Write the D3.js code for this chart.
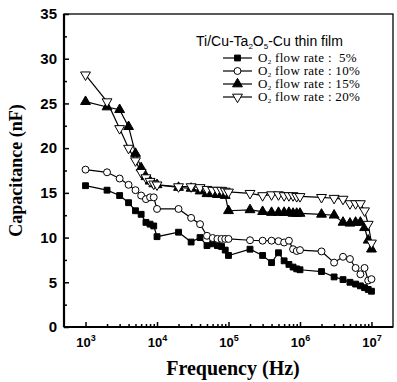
<!DOCTYPE html>
<html>
<head>
<meta charset="utf-8">
<script src="https://cdn.jsdelivr.net/npm/d3@7"></script>
<style>
  body { margin: 0; background: #fff; }
  .line { fill: none; stroke: #000; stroke-width: 1.2px; }
  .tick line { stroke: #000; stroke-width: 1.5px; }
  .domain { display: none; }
</style>
</head>
<body>
<script>
// de gegevens
var freq = [1e3, 2e3, 3e3, 4e3, 5e3, 6e3, 7e3, 8e3, 9e3,
            1e4, 2e4, 3e4, 4e4, 5e4, 6e4, 7e4, 8e4, 9e4,
            1e5, 2e5, 3e5, 4e5, 5e5, 6e5, 7e5, 8e5, 9e5,
            1e6, 2e6, 3e6, 4e6, 5e6, 6e6, 7e6, 8e6, 9e6,
            1e7];
var cap5  = [15.8, 15.3, 14.7, 13.9, 13.0, 12.6, 11.7, 11.5, 11.3,
             10.1, 10.6, 9.5, 10.0, 9.1, 9.3, 9.1, 9.0, 8.6,
             8.0, 8.7, 8.0, 7.2, 8.3, 7.4, 7.0, 6.7, 6.5,
             6.4, 6.2, 5.6, 5.3, 5.0, 4.8, 4.6, 4.4, 4.2,
             4.0];
var cap10 = [17.6, 17.3, 16.6, 15.9, 15.3, 14.7, 14.3, 14.5, 14.5,
             13.2, 13.2, 12.2, 11.5, 10.2, 9.95, 9.85, 9.85, 9.85,
             9.85, 9.7, 9.65, 9.65, 9.6, 9.45, 9.65, 8.7, 8.5,
             8.6, 8.45, 7.2, 7.85, 7.6, 6.6, 5.9, 6.6, 5.2,
             5.35];
var cap15 = [25.2, 24.6, 24.3, 22.4, 19.4, 17.8, 16.8, 16.3, 16.0,
             15.9, 15.6, 15.5, 15.2, 14.9, 14.9, 14.8, 14.8, 14.7,
             13.0, 13.1, 12.9, 12.8, 12.8, 12.8, 12.8, 12.7, 12.7,
             12.7, 12.6, 12.5, 11.7, 11.6, 11.7, 11.7, 11.1, 9.7,
             8.7];
var cap20 = [28.2, 25.2, 22.2, 20.0, 18.6, 17.3, 16.7, 16.3, 16.0,
             15.9, 15.7, 15.7, 15.6, 15.4, 15.3, 15.3, 15.3, 15.2,
             15.1, 14.95, 14.7, 14.8, 14.8, 14.7, 14.7, 14.7, 14.6,
             14.6, 14.5, 14.4, 14.3, 13.8, 13.8, 13.8, 13.0, 11.5,
             9.4];

var reeksNamen = ["O2 flow rate :  5%", "O2 flow rate : 10%", "O2 flow rate : 15%", "O2 flow rate : 20%"];
var yTicks = [0, 5, 10, 15, 20, 25, 30, 35];
var yMinor = [2.5, 7.5, 12.5, 17.5, 22.5, 27.5, 32.5];
var xTicks = [1e3, 1e4, 1e5, 1e6, 1e7];
var xExpo = ["3", "4", "5", "6", "7"];
var xMinor = [2e3, 3e3, 4e3, 5e3, 6e3, 7e3, 8e3, 9e3,
              2e4, 3e4, 4e4, 5e4, 6e4, 7e4, 8e4, 9e4,
              2e5, 3e5, 4e5, 5e5, 6e5, 7e5, 8e5, 9e5,
              2e6, 3e6, 4e6, 5e6, 6e6, 7e6, 8e6, 9e6];

// afmetingen
var margin = {top: 14, right: 4, bottom: 55, left: 64},
    width = 397 - margin.left - margin.right,
    height = 382 - margin.top - margin.bottom;

var x = d3.scaleLog().domain([500, 2e7]).range([0, width]);
var y = d3.scaleLinear().domain([0, 35]).range([height, 0]);

var svg = d3.select("body").append("svg")
    .attr("width", 397)
    .attr("height", 382)
  .append("g")
    .attr("transform", "translate(" + margin.left + "," + margin.top + ")");

// kader
svg.append("rect")
    .attr("width", width)
    .attr("height", height)
    .attr("fill", "none")
    .attr("stroke", "#000")
    .attr("stroke-width", 1.3);
svg.append("line").attr("x1", 0).attr("x2", 0).attr("y1", 0).attr("y2", height)
    .attr("stroke", "#000").attr("stroke-width", 2.2);
svg.append("line").attr("x1", 0).attr("x2", width).attr("y1", height).attr("y2", height)
    .attr("stroke", "#000").attr("stroke-width", 2.2);

// y as
var yAs = svg.append("g")
    .call(d3.axisLeft(y).tickValues(yTicks).tickSize(-5).tickPadding(7));
yAs.selectAll("text")
    .attr("font-family", "Liberation Sans, Arial, sans-serif")
    .attr("font-size", "15px")
    .attr("font-weight", "bold")
    .attr("fill", "#000");
svg.append("g")
    .call(d3.axisLeft(y).tickValues(yMinor).tickSize(-3).tickFormat(""));

// x as
var xAs = svg.append("g")
    .attr("transform", "translate(0," + height + ")")
    .call(d3.axisBottom(x).tickValues(xTicks).tickSize(-5).tickFormat(""));
xAs.selectAll(".tick").append("text")
    .attr("y", 20)
    .attr("text-anchor", "middle")
    .attr("font-family", "Liberation Sans, Arial, sans-serif")
    .attr("font-size", "13px")
    .attr("font-weight", "bold")
    .attr("fill", "#000")
    .each(function(d, i) {
      var t = d3.select(this);
      t.append("tspan").text("10");
      t.append("tspan").attr("dy", -6).attr("font-size", "9px").text(xExpo[i]);
    });
svg.append("g")
    .attr("transform", "translate(0," + height + ")")
    .call(d3.axisBottom(x).tickValues(xMinor).tickSize(-3).tickFormat(""));

// as titels
svg.append("text")
    .attr("transform", "translate(-42," + (height / 2) + ") rotate(-90)")
    .attr("text-anchor", "middle")
    .attr("font-family", "Liberation Serif, Times New Roman, serif")
    .attr("font-weight", "bold")
    .attr("font-size", "18px")
    .text("Capacitance (nF)");

svg.append("text")
    .attr("x", 169)
    .attr("y", height + 48)
    .attr("text-anchor", "middle")
    .attr("font-family", "Liberation Serif, Times New Roman, serif")
    .attr("font-weight", "bold")
    .attr("font-size", "20px")
    .text("Frequency (Hz)");

// reeksen
var reeksen = [cap5, cap10, cap15, cap20];
var vormen = [
  {type: d3.symbolSquare, size: 34, fill: "#000", rot: 0},
  {type: d3.symbolCircle, size: 38, fill: "#fff", rot: 0},
  {type: d3.symbolTriangle, size: 42, fill: "#000", rot: 0},
  {type: d3.symbolTriangle, size: 42, fill: "#fff", rot: 180}
];

var lijn = d3.line()
    .x(function(d) { return x(d.f); })
    .y(function(d) { return y(d.c); });

reeksen.forEach(function(waarden, k) {
  var data = freq.map(function(f, i) { return {f: f, c: waarden[i]}; });
  svg.append("path")
      .datum(data)
      .attr("class", "line")
      .attr("d", lijn);
  svg.selectAll(".m" + k)
      .data(data)
    .enter().append("path")
      .attr("class", "m" + k)
      .attr("transform", function(d) {
        return "translate(" + x(d.f) + "," + y(d.c) + ") rotate(" + vormen[k].rot + ")";
      })
      .attr("d", d3.symbol().type(vormen[k].type).size(vormen[k].size))
      .attr("fill", vormen[k].fill)
      .attr("stroke", "#000")
      .attr("stroke-width", 1);
});

// legenda
var leg = svg.append("g");
var titel = leg.append("text")
    .attr("x", 132)
    .attr("y", 32)
    .attr("font-family", "Liberation Sans, Arial, sans-serif")
    .attr("font-size", "14px");
titel.append("tspan").text("Ti/Cu-Ta");
titel.append("tspan").attr("dy", 3).attr("font-size", "8px").text("2");
titel.append("tspan").attr("dy", -3).text("O");
titel.append("tspan").attr("dy", 3).attr("font-size", "8px").text("5");
titel.append("tspan").attr("dy", -3).text("-Cu thin film");

reeksNamen.forEach(function(naam, k) {
  var ry = 44 + k * 13;
  leg.append("line")
      .attr("x1", 159).attr("x2", 188)
      .attr("y1", ry).attr("y2", ry)
      .attr("stroke", "#000").attr("stroke-width", 1.2);
  leg.append("path")
      .attr("transform", "translate(173.5," + ry + ") rotate(" + vormen[k].rot + ")")
      .attr("d", d3.symbol().type(vormen[k].type).size(vormen[k].size))
      .attr("fill", vormen[k].fill)
      .attr("stroke", "#000");
  var t = leg.append("text")
      .attr("x", 194)
      .attr("y", ry + 4)
      .attr("font-family", "Liberation Serif, Times New Roman, serif")
      .attr("font-size", "13px")
      .attr("letter-spacing", "0.3px")
      .attr("xml:space", "preserve");
  t.append("tspan").text("O");
  t.append("tspan").attr("dy", 2).attr("font-size", "7px").text("2");
  t.append("tspan").attr("dy", -2).text(naam.slice(2));
});
</script>
</body>
</html>
